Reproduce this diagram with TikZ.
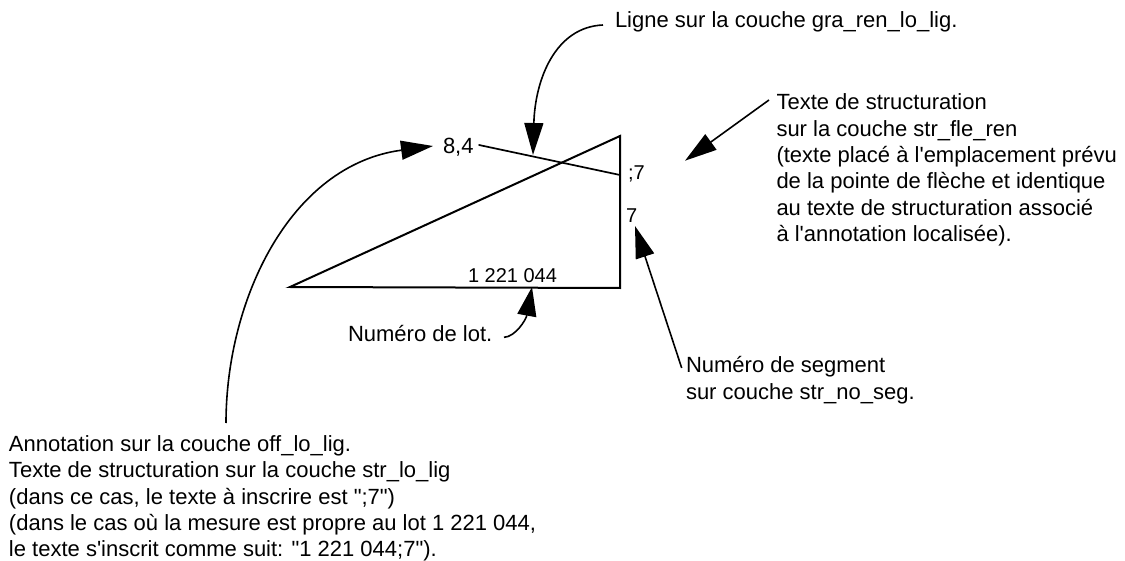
\documentclass[tikz,border=0pt]{standalone}
\usepackage{fontspec}
\setmainfont[Ligatures=TeXOff]{Liberation Sans}
\usetikzlibrary{arrows.meta}
\tikzset{
  lbl/.style={inner sep=0pt,outer sep=0pt,anchor=base west,align=left,font=\fontsize{22}{26.3}\selectfont},
  small/.style={font=\fontsize{20}{24}\selectfont},
  geom/.style={line width=2pt,line cap=round},
  lead/.style={line width=1.6pt,-{Triangle[length=32pt,width=19pt]}}
}
\begin{document}
\begin{tikzpicture}[x=1pt,y=-1pt]
\useasboundingbox (0,0) rectangle (1125,561);
\coordinate (A) at (290,287);
\coordinate (B) at (620,136);
\coordinate (C) at (620,288);
\coordinate (L) at (479,145);
\coordinate (M) at (620,175);
\draw[geom] (A) -- (B) -- (C) -- cycle;
\draw[line width=1.7pt,line cap=round] (L) -- (M);

\node[lbl] (ligne) at (615,27.7) {Ligne sur la couche gra\_ren\_lo\_lig.};
\node[lbl] (huit) at (443,154) {8,4};
\node[lbl,small] (pv) at (628,180) {;7};
\node[lbl,small] (sept) at (626,222.7) {7};
\node[lbl,small] (lot) at (468,283) {1 221 044};
\node[lbl] (numlot) at (348,341.7) {Numéro de lot.};
\node[lbl,anchor=north west] (seg) at (686,356.7) {Numéro de segment\\sur couche str\_no\_seg.};
\node[lbl,anchor=north west] (txt) at (776.5,94) {Texte de structuration\\sur la couche str\_fle\_ren\\(texte placé à l'emplacement prévu\\de la pointe de flèche et identique\\au texte de structuration associé\\à l'annotation localisée).};
\node[lbl,anchor=north west] (ann) at (9,435.7) {Annotation sur la couche off\_lo\_lig.\\Texte de structuration sur la couche str\_lo\_lig\\(dans ce cas, le texte à inscrire est ";7")\\(dans le cas où la mesure est propre au lot 1 221 044,\\le texte s'inscrit comme suit: "1 221 044;7").};

\coordinate (s1) at (603,25);
\coordinate (t1) at (533,155);
\coordinate (s2) at (226,423);
\coordinate (t2) at (433,146);
\coordinate (s3) at (769,100);
\coordinate (t3) at (685,160.7);
\coordinate (s4) at (504,337.3);
\coordinate (t4) at (532,287);
\coordinate (s5) at (681.7,368);
\coordinate (t5) at (635,226);
\draw[lead] (s1) .. controls (555,27) and (535,80) .. (t1);
\draw[lead] (s2) .. controls (226,300) and (290,165) .. (t2);
\draw[lead] (s3) -- (t3);
\draw[lead,-{Triangle[length=29pt,width=19pt]}] (s4) .. controls (515,337) and (526,320) .. (t4);
\draw[lead] (s5) -- (t5);
\end{tikzpicture}
\end{document}
